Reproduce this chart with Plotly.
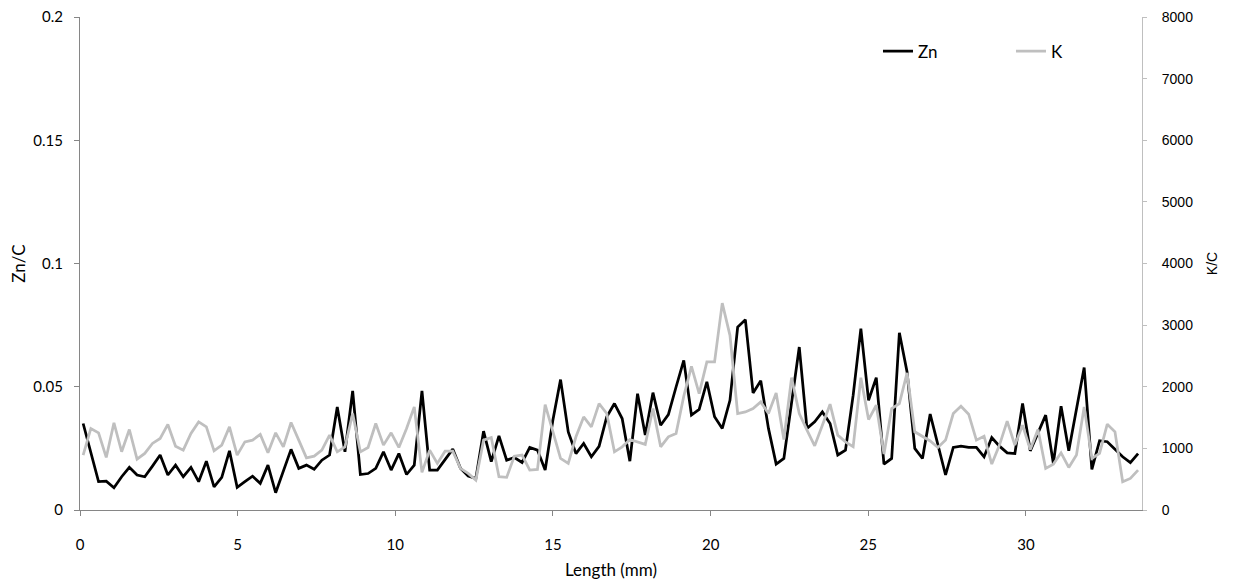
import numpy as np
import plotly.graph_objects as go

# profile sampling: first position and step along the profile (mm)
start_mm = 0.1
step_mm = 0.2442

zn = [0.0351, 0.0236, 0.0115, 0.0117, 0.0090, 0.0135, 0.0173, 0.0142, 0.0135, 0.0178,
      0.0223, 0.0142, 0.0182, 0.0135, 0.0173, 0.0115, 0.0198, 0.0094, 0.0132, 0.0240,
      0.0092, 0.0115, 0.0137, 0.0108, 0.0182, 0.0070, 0.0155, 0.0246, 0.0169, 0.0182,
      0.0165, 0.0202, 0.0223, 0.0418, 0.0236, 0.0483, 0.0144, 0.0148, 0.0169, 0.0236,
      0.0162, 0.0229, 0.0144, 0.0182, 0.0483, 0.0162, 0.0162, 0.0205, 0.0247, 0.0169,
      0.0138, 0.0128, 0.0320, 0.0196, 0.0301, 0.0202, 0.0213, 0.0193, 0.0254, 0.0243,
      0.0162, 0.0364, 0.0529, 0.0317, 0.0229, 0.0270, 0.0216, 0.0258, 0.0378, 0.0432,
      0.0371, 0.0198, 0.0472, 0.0304, 0.0476, 0.0344, 0.0387, 0.0499, 0.0607, 0.0385,
      0.0408, 0.0520, 0.0378, 0.0331, 0.0445, 0.0742, 0.0772, 0.0475, 0.0524, 0.0331,
      0.0186, 0.0209, 0.0432, 0.0661, 0.0331, 0.0358, 0.0398, 0.0351, 0.0223, 0.0243,
      0.0466, 0.0736, 0.0445, 0.0537, 0.0186, 0.0209, 0.0719, 0.0560, 0.0250, 0.0209,
      0.0389, 0.0263, 0.0142, 0.0254, 0.0259, 0.0254, 0.0254, 0.0216, 0.0294, 0.0259,
      0.0232, 0.0229, 0.0432, 0.0240, 0.0313, 0.0385, 0.0189, 0.0421, 0.0240, 0.0409,
      0.0578, 0.0165, 0.0281, 0.0277, 0.0246, 0.0216, 0.0192, 0.0229]

k = [891, 1323, 1252, 853, 1414, 945, 1306, 826, 918, 1080,
     1161, 1388, 1036, 972, 1242, 1430, 1349, 960, 1053, 1349,
     891, 1106, 1134, 1226, 928, 1252, 1025, 1420, 1134, 847,
     874, 972, 1215, 944, 1025, 1566, 944, 1015, 1404, 1053,
     1252, 1015, 1323, 1673, 610, 972, 756, 955, 955, 675,
     594, 486, 1134, 1177, 540, 529, 874, 891, 648, 659,
     1711, 1269, 837, 756, 1188, 1511, 1349, 1727, 1566, 944,
     1025, 1144, 1106, 1064, 1647, 1025, 1187, 1242, 1846, 2332,
     1889, 2402, 2402, 3357, 2834, 1566, 1592, 1647, 1754, 1566,
     1900, 1144, 2148, 1566, 1296, 1042, 1376, 1717, 1215, 1106,
     1026, 2148, 1468, 1700, 907, 1646, 1727, 2224, 1269, 1188,
     1120, 1015, 1134, 1566, 1684, 1555, 1134, 1198, 745, 1053,
     1441, 1053, 1376, 982, 1306, 675, 745, 928, 691, 891,
     1673, 837, 918, 1393, 1268, 459, 513, 648]

length_mm = np.round(start_mm + np.arange(len(zn)) * step_mm, 4)

x_ticks = [0, 5, 10, 15, 20, 25, 30]
x_max = 33.68
zn_ticks = [0, 0.05, 0.1, 0.15, 0.2]
k_ticks = [0, 1000, 2000, 3000, 4000, 5000, 6000, 7000, 8000]

font_main = "Lato, Carlito, Calibri, sans-serif"
font_right = "Liberation Sans, Arial, sans-serif"

fig = go.Figure()
fig.add_trace(go.Scatter(x=length_mm, y=zn, name="Zn", mode="lines",
                         line=dict(color="#000000", width=2.75), yaxis="y"))
fig.add_trace(go.Scatter(x=length_mm, y=k, name="K", mode="lines",
                         line=dict(color="#BFBFBF", width=2.75), yaxis="y2"))

# the page body has an 8px default margin, so the figure is sized to fill the rest
fig.update_layout(
    width=1228, height=578,
    margin=dict(l=72, r=94, t=9, b=76),
    paper_bgcolor="white", plot_bgcolor="white",
    font=dict(family=font_main, size=15, color="#000000"),
    showlegend=True,
    legend=dict(orientation="h", x=0.7514, y=0.9666, xanchor="left", yanchor="top",
                bgcolor="rgba(0,0,0,0)", entrywidth=88, entrywidthmode="pixels",
                font=dict(family=font_main, size=17), itemwidth=30),
    xaxis=dict(range=[0, x_max], tickvals=x_ticks, showgrid=False, zeroline=False,
               showline=True, linecolor="#868686", linewidth=1, ticks="outside",
               ticklen=5, tickcolor="#868686", automargin=False, ticklabelstandoff=16,
               ticklabeloverflow="allow", tickfont=dict(size=15),
               title=dict(text="Length (mm)", font=dict(size=17), standoff=12)),
    yaxis=dict(range=[0, 0.2], tickvals=zn_ticks, showgrid=False, zeroline=False,
               showline=True, linecolor="#868686", linewidth=1, ticks="outside",
               ticklen=5, tickcolor="#868686", automargin=False, ticklabelstandoff=8,
               ticklabeloverflow="allow", tickfont=dict(size=15),
               title=dict(text="Zn/C", font=dict(size=17), standoff=6)),
    yaxis2=dict(range=[0, 8000], tickvals=k_ticks, overlaying="y", side="right",
                showgrid=False, zeroline=False, showline=True, linecolor="#BFBFBF",
                linewidth=1, ticks="outside", ticklen=4, tickcolor="#BFBFBF",
                automargin=False, ticklabelstandoff=12, ticklabeloverflow="allow",
                tickfont=dict(family=font_right, size=14),
                title=dict(text="K/C", font=dict(family=font_right, size=14), standoff=15)),
)

fig.write_html("out.html")
